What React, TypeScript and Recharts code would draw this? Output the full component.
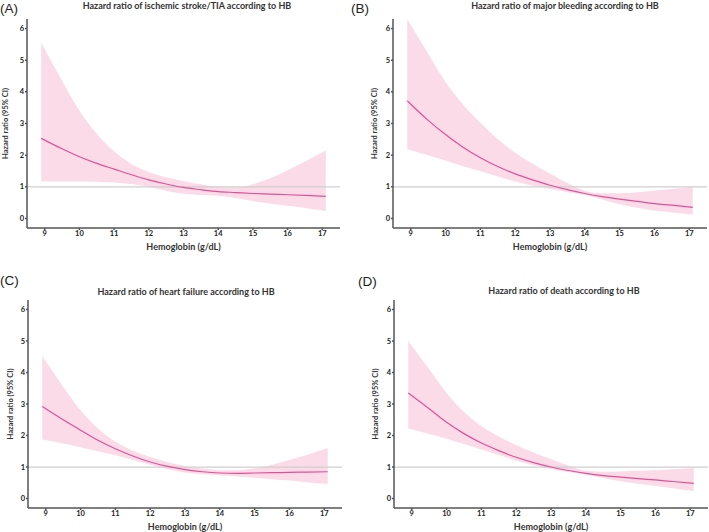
import React from "react"
import { ComposedChart, Area, Line, XAxis, YAxis, ReferenceLine } from "recharts"

// Hemoglobin grid (g/dL) shared by all four curves
const hemoglobin = [8.9, 9.5, 10, 10.5, 11, 11.5, 12, 12.5, 13, 13.5, 14, 14.5, 15, 15.5, 16, 16.5, 17.1]
const xTicks = [9, 10, 11, 12, 13, 14, 15, 16, 17]
const yTicks = [0, 1, 2, 3, 4, 5, 6]

// (A) ischemic stroke / TIA
const strokeHR = [2.53, 2.2, 1.95, 1.74, 1.56, 1.38, 1.22, 1.09, 0.98, 0.91, 0.85, 0.82, 0.79, 0.77, 0.75, 0.73, 0.7]
const strokeLower = [1.18, 1.17, 1.17, 1.16, 1.14, 1.09, 1.0, 0.88, 0.78, 0.74, 0.72, 0.65, 0.55, 0.47, 0.4, 0.33, 0.24]
const strokeUpper = [5.55, 4.35, 3.4, 2.68, 2.12, 1.72, 1.47, 1.3, 1.18, 1.08, 1.0, 0.98, 1.08, 1.27, 1.52, 1.8, 2.15]

// (B) major bleeding
const bleedHR = [3.72, 3.1, 2.65, 2.25, 1.92, 1.64, 1.41, 1.22, 1.05, 0.91, 0.79, 0.69, 0.61, 0.54, 0.47, 0.42, 0.35]
const bleedLower = [2.19, 2.0, 1.83, 1.65, 1.5, 1.33, 1.17, 1.04, 0.93, 0.83, 0.74, 0.6, 0.45, 0.34, 0.25, 0.19, 0.13]
const bleedUpper = [6.3, 5.2, 4.3, 3.6, 3.02, 2.5, 2.08, 1.73, 1.42, 1.12, 0.88, 0.8, 0.8, 0.83, 0.88, 0.93, 1.0]

// (C) heart failure
const hfHR = [2.92, 2.5, 2.17, 1.85, 1.58, 1.35, 1.16, 1.02, 0.92, 0.85, 0.81, 0.8, 0.81, 0.82, 0.83, 0.84, 0.85]
const hfLower = [1.87, 1.75, 1.63, 1.5, 1.37, 1.22, 1.07, 0.93, 0.83, 0.77, 0.74, 0.7, 0.66, 0.61, 0.57, 0.52, 0.46]
const hfUpper = [4.52, 3.55, 2.8, 2.22, 1.8, 1.52, 1.32, 1.15, 1.03, 0.95, 0.9, 0.9, 0.96, 1.07, 1.22, 1.38, 1.6]

// (D) death
const deathHR = [3.35, 2.85, 2.42, 2.06, 1.76, 1.52, 1.31, 1.14, 1.0, 0.89, 0.8, 0.73, 0.68, 0.63, 0.59, 0.54, 0.48]
const deathLower = [2.22, 2.05, 1.9, 1.73, 1.56, 1.38, 1.2, 1.06, 0.94, 0.84, 0.76, 0.65, 0.55, 0.47, 0.4, 0.33, 0.24]
const deathUpper = [5.0, 4.1, 3.35, 2.75, 2.3, 1.97, 1.7, 1.46, 1.25, 1.05, 0.88, 0.85, 0.86, 0.88, 0.9, 0.93, 0.97]

const titles = [
  "Hazard ratio of ischemic stroke/TIA according to HB",
  "Hazard ratio of major bleeding according to HB",
  "Hazard ratio of heart failure according to HB",
  "Hazard ratio of death according to HB",
]
const letters = ["(A)", "(B)", "(C)", "(D)"]

const FONT = "Lato, 'Open Sans', sans-serif"
const LINE = "#e0509a"
const BAND = "#fadbe7"
const AXIS = "#555"

function rows(hr: number[], lo: number[], hi: number[]) {
  return hemoglobin.map((hb, i) => ({ hb, hr: hr[i], band: [lo[i], hi[i]] }))
}

type PanelProps = {
  data: { hb: number; hr: number; band: number[] }[]
  left: number
  top: number
  width: number
  height: number
  margin: { top: number; right: number; left: number; bottom: number }
  xAxisHeight: number
  xLabelOffset: number
  yLabelOffset: number
}

function Panel({ data, left, top, width, height, margin, xAxisHeight, xLabelOffset, yLabelOffset }: PanelProps) {
  const tick = { fontSize: 7.5, fontWeight: 700, fill: "#222", fontFamily: FONT }
  return (
    <div style={{ position: "absolute", left, top }}>
      <ComposedChart width={width} height={height} data={data} margin={margin}>
        <XAxis
          dataKey="hb"
          type="number"
          domain={[8.49, 17.51]}
          ticks={xTicks}
          allowDataOverflow
          height={xAxisHeight}
          stroke={AXIS}
          strokeWidth={1.5}
          tickSize={2}
          tickMargin={1}
          tick={tick}
          label={{
            value: "Hemoglobin (g/dL)",
            position: "insideBottom",
            offset: xLabelOffset,
            style: { fontSize: 9, fontWeight: 700, fill: "#333", fontFamily: FONT },
          }}
        />
        <YAxis
          type="number"
          domain={[-0.3, 6.3]}
          ticks={yTicks}
          allowDataOverflow
          width={27}
          stroke={AXIS}
          strokeWidth={1.5}
          tickSize={2}
          tickMargin={1}
          tick={tick}
          label={{
            value: "Hazard ratio (95% CI)",
            angle: -90,
            position: "insideLeft",
            offset: yLabelOffset,
            style: { fontSize: 7.5, fontWeight: 700, fill: "#333", fontFamily: FONT, textAnchor: "middle" },
          }}
        />
        <ReferenceLine y={1} stroke="#cfcfcf" strokeWidth={1.2} ifOverflow="extendDomain" />
        <Area type="monotone" dataKey="band" stroke="none" fill={BAND} fillOpacity={1} isAnimationActive={false} />
        <Line type="monotone" dataKey="hr" stroke={LINE} strokeWidth={1.2} dot={false} isAnimationActive={false} />
      </ComposedChart>
    </div>
  )
}

export default function App() {
  const panels = [
    { data: rows(strokeHR, strokeLower, strokeUpper), left: 0, top: 0, width: 345, height: 260,
      margin: { top: 19, right: 5, left: 0, bottom: 0 }, xAxisHeight: 32, xLabelOffset: 10, yLabelOffset: 5 },
    { data: rows(bleedHR, bleedLower, bleedUpper), left: 350, top: 0, width: 359, height: 260,
      margin: { top: 19, right: 2, left: 16, bottom: 0 }, xAxisHeight: 32, xLabelOffset: 10, yLabelOffset: 8 },
    { data: rows(hfHR, hfLower, hfUpper), left: 0, top: 260, width: 345, height: 272,
      margin: { top: 40, right: 3, left: 1, bottom: 0 }, xAxisHeight: 24, xLabelOffset: 2, yLabelOffset: 9 },
    { data: rows(deathHR, deathLower, deathUpper), left: 350, top: 260, width: 359, height: 272,
      margin: { top: 40, right: 1, left: 17, bottom: 0 }, xAxisHeight: 24, xLabelOffset: 2, yLabelOffset: 8 },
  ]
  const titlePos = [
    { x: 187, y: 5 },
    { x: 565, y: 5 },
    { x: 186, y: 291 },
    { x: 564, y: 290 },
  ]
  const letterPos = [
    { x: 0, y: 8 },
    { x: 351, y: 8 },
    { x: 0, y: 280 },
    { x: 358, y: 281 },
  ]

  return (
    <div style={{ position: "absolute", left: 0, top: 0, width: 709, height: 532, background: "#fff" }}>
      {panels.map((p, i) => (
        <Panel key={i} {...p} />
      ))}
      <svg width={709} height={532} style={{ position: "absolute", left: 0, top: 0, pointerEvents: "none" }}>
        {titles.map((t, i) => (
          <text key={t} x={titlePos[i].x} y={titlePos[i].y} textAnchor="middle" dominantBaseline="central"
            fontFamily={FONT} fontWeight={700} fontSize={9} fill="#333">
            {t}
          </text>
        ))}
        {letters.map((l, i) => (
          <text key={l} x={letterPos[i].x} y={letterPos[i].y} dominantBaseline="central"
            fontFamily="'Liberation Sans', Arial, sans-serif" fontSize={13.5} fill="#222">
            {l}
          </text>
        ))}
      </svg>
    </div>
  )
}
